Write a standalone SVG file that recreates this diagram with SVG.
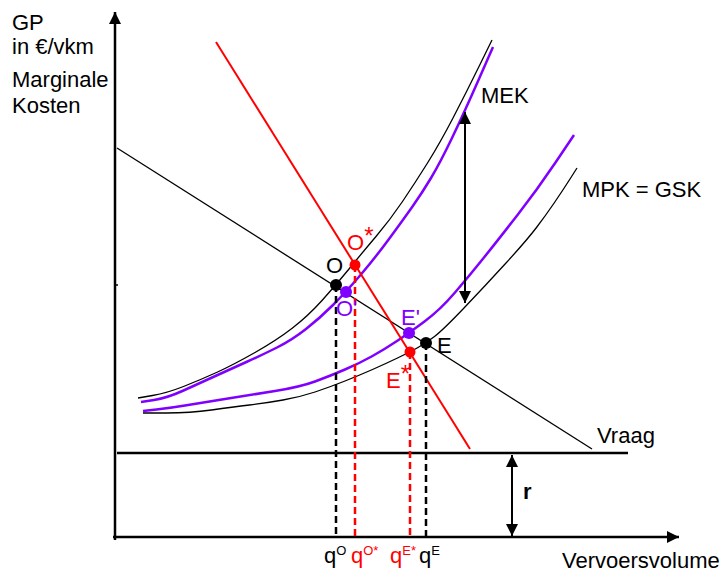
<svg xmlns="http://www.w3.org/2000/svg" width="728" height="572" viewBox="0 0 728 572">
<style>
text{font-family:"Liberation Sans",Arial,sans-serif;font-size:22px;fill:#000}
.red{fill:#ff0000}
.pur{fill:#8000ff}
.sup{font-size:13px}
.star{font-size:24px}
.axis{stroke:#000;stroke-width:2.5;fill:none}
.thin{stroke:#000;stroke-width:1.3;fill:none;stroke-linejoin:round}
.purple{stroke:#8000ff;stroke-width:2.5;fill:none;stroke-linejoin:round}
.redl{stroke:#ff0000;stroke-width:2;fill:none}
.dashk{stroke:#000;stroke-width:2.5;stroke-dasharray:7 4;fill:none}
.dashr{stroke:#ff0000;stroke-width:2.5;stroke-dasharray:7 4;fill:none}
.arr{stroke:#000;stroke-width:2;fill:none}
</style>
<defs>
<marker id="ah" viewBox="0 0 10 10" refX="10" refY="5" markerWidth="12" markerHeight="12" markerUnits="userSpaceOnUse" orient="auto-start-reverse">
<path d="M0,0 L10,5 L0,10 Z" fill="#000"/>
</marker>
</defs>
<rect width="728" height="572" fill="#fff"/>
<g id="axes">
<line class="axis" x1="115" y1="540" x2="115" y2="12" marker-end="url(#ah)"/>
<line class="axis" x1="113" y1="537" x2="679" y2="537" marker-end="url(#ah)"/>
<line class="axis" x1="117" y1="453" x2="628" y2="453"/>
<line x1="115" y1="285" x2="118" y2="285" stroke="#000" stroke-width="1.5"/>
</g>
<g id="connectors">
<path id="mek" class="thin" d="M138,398 L152.5,395.5 Q167,393 183.5,386.5 Q200,380 216.5,372.5 Q233,365 255,352.5 Q277,340 292.5,328 Q308,316 322,300.5 Q336,285 349,269 Q362,253 376,236.5 Q390,220 402.5,201.5 Q415,183 427.5,163 Q440,143 453,118 Q466,93 479,66.5 L492,40"/>
<path id="mek-purple" class="purple" d="M141,402 L154,400 Q167,398 183.5,390.5 Q200,383 216.5,375.5 Q233,368 247.5,361.5 Q262,355 277,347.5 Q292,340 306,329 Q320,318 333,305 Q346,292 360.5,275 Q375,258 389,239 Q403,220 412.5,206.5 Q422,193 431,178 Q440,163 452,138 Q464,113 478.5,80 L493,47"/>
<path id="mpk-purple" class="purple" d="M143,411 L156.5,409.5 Q170,408 185,405.5 Q200,403 225,399 Q250,395 275,391 Q300,387 315,381.5 Q330,376 345,369.5 Q360,363 372.5,356 Q385,349 397,341 Q409,333 424.5,321.5 Q440,310 455,292.5 Q470,275 484,257.5 Q498,240 517.5,215 Q537,190 555.5,162.5 L574,135"/>
<path id="mpk" class="thin" d="M143,413 L166.5,413 Q190,413 211.5,410 Q233,407 249.5,405 Q266,403 283,400 Q300,397 315,392 Q330,387 345,381 Q360,375 372.5,369.5 Q385,364 397.5,358 Q410,352 418,347.5 Q426,343 434.5,336.5 Q443,330 464,308 Q485,286 506,263 Q527,240 536.5,227.5 Q546,215 554.5,202.5 Q563,190 570,179 L577,168"/>
<line id="vraag" class="thin" x1="117" y1="148" x2="592" y2="449"/>
<line id="redline" class="redl" x1="216" y1="42" x2="470" y2="449"/>
<line class="dashk" x1="336" y1="285" x2="336" y2="537"/>
<line class="dashr" x1="355" y1="265" x2="355" y2="537"/>
<line class="dashr" x1="410" y1="352" x2="410" y2="537"/>
<line class="dashk" x1="426" y1="343" x2="426" y2="537"/>
<line id="mek-arrow" class="arr" x1="465" y1="200" x2="465" y2="112" marker-end="url(#ah)"/>
<line class="arr" x1="465" y1="200" x2="465" y2="303" marker-end="url(#ah)"/>
<line id="r-arrow" class="arr" x1="512" y1="496" x2="512" y2="455" marker-end="url(#ah)"/>
<line class="arr" x1="512" y1="496" x2="512" y2="536" marker-end="url(#ah)"/>
</g>
<g id="point-O"><circle cx="336" cy="285" r="6" fill="#000"/><text x="326" y="273">O</text></g>
<g id="point-Ostar"><circle cx="355" cy="265" r="5.5" fill="#ff0000"/><text class="red" x="347" y="250">O<tspan class="star" dy="-6">*</tspan></text></g>
<g id="point-Oprime"><circle cx="346" cy="292" r="6" fill="#8000ff"/><text class="pur" x="336" y="316" font-size="18">O'</text></g>
<g id="point-Eprime"><circle cx="409" cy="333" r="6" fill="#8000ff"/><text class="pur" x="401" y="325">E'</text></g>
<g id="point-E"><circle cx="426" cy="343" r="6" fill="#000"/><text x="437" y="353">E</text></g>
<g id="point-Estar"><circle cx="410" cy="352" r="5.5" fill="#ff0000"/><text class="red" x="386" y="388">E<tspan class="star" dy="-6">*</tspan></text></g>
<g id="labels">
<text x="12" y="30">GP</text>
<text x="12" y="54">in €/vkm</text>
<text x="12" y="87">Marginale</text>
<text x="12" y="113">Kosten</text>
<text x="481" y="103">MEK</text>
<text x="582" y="197">MPK = GSK</text>
<text x="597" y="443">Vraag</text>
<text x="562" y="568">Vervoersvolume</text>
<text x="523" y="499" font-weight="bold">r</text>
<text x="324" y="563">q<tspan class="sup" dy="-8">O</tspan></text>
<text class="red" x="351" y="563">q<tspan class="sup" dy="-8">O*</tspan></text>
<text class="red" x="390" y="563">q<tspan class="sup" dy="-8">E*</tspan></text>
<text x="419" y="563">q<tspan class="sup" dy="-8">E</tspan></text>
</g>
</svg>
